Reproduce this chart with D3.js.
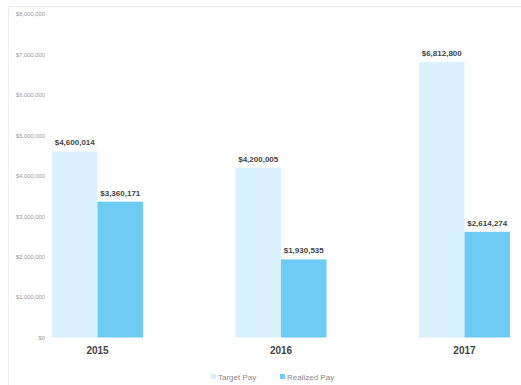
<!DOCTYPE html>
<html><head><meta charset="utf-8">
<script src="https://cdn.jsdelivr.net/npm/d3@7"></script>
<style>body{margin:0;background:#fff}svg{display:block}</style>
</head><body>
<svg id="c" width="521" height="385"></svg>
<script>
const categories = ["2015", "2016", "2017"];
const seriesNames = ["Target Pay", "Realized Pay"];
const targetPay = [4600014, 4200005, 6812800];
const realizedPay = [3360171, 1930535, 2614274];
const yTicks = [0, 1000000, 2000000, 3000000, 4000000, 5000000, 6000000, 7000000, 8000000];
const colors = ["#d9f2fd", "#6ecbf3"];

const svg = d3.select("#c");
const W = 521, H = 385;
const x = d3.scaleBand().domain(categories).range([52, 510]).paddingInner(0.504).paddingOuter(0);
const xs = d3.scaleBand().domain(seriesNames).range([0, x.bandwidth()]);
const y = d3.scaleLinear().domain([0, 8000000]).range([337.5, 14]);

// faint frame lines
svg.append("line").attr("x1", 8).attr("x2", W).attr("y1", 6.5).attr("y2", 6.5).attr("stroke", "#ececec");
svg.append("line").attr("x1", 8.5).attr("x2", 8.5).attr("y1", 6).attr("y2", H).attr("stroke", "#f0f0f0");

// y axis
const yAxis = d3.axisLeft(y).tickValues(yTicks).tickSize(0).tickPadding(0)
  .tickFormat(d => "$" + d3.format(",")(d));
const ga = svg.append("g").attr("transform", "translate(45,0)").call(yAxis);
ga.select(".domain").remove();
ga.selectAll("text").attr("font-family", "Liberation Sans, Arial, sans-serif").attr("font-size", 5.8).attr("fill", "#999");

// bars
const series = [targetPay, realizedPay];
series.forEach((vals, si) => {
  const g = svg.append("g");
  g.selectAll("rect").data(categories).join("rect")
    .attr("x", (c) => x(c) + xs(seriesNames[si]))
    .attr("width", xs.bandwidth())
    .attr("y", (c, i) => y(vals[i]))
    .attr("height", (c, i) => y(0) - y(vals[i]))
    .attr("fill", colors[si]);
  g.selectAll("text").data(categories).join("text")
    .attr("x", (c) => x(c) + xs(seriesNames[si]) + xs.bandwidth() / 2)
    .attr("y", (c, i) => y(vals[i]) - 6)
    .attr("text-anchor", "middle")
    .attr("font-family", "Liberation Sans, Arial, sans-serif")
    .attr("font-size", 8).attr("font-weight", "bold").attr("fill", "#444")
    .text((c, i) => "$" + d3.format(",")(vals[i]));
});

// x axis labels
const xAxis = d3.axisBottom(x).tickSize(0).tickPadding(7);
const gx = svg.append("g").attr("transform", "translate(0,340)").call(xAxis);
gx.select(".domain").remove();
gx.selectAll("text").attr("font-family", "Liberation Sans, Arial, sans-serif").attr("font-size", 10).attr("font-weight", "bold").attr("fill", "#444");

// legend
const legendX = [211, 280];
const lg = svg.append("g");
seriesNames.forEach((n, i) => {
  lg.append("rect").attr("x", legendX[i]).attr("y", 374).attr("width", 5).attr("height", 5).attr("fill", colors[i]);
  lg.append("text").attr("x", legendX[i] + 7).attr("y", 379.5)
    .attr("font-family", "Liberation Sans, Arial, sans-serif").attr("font-size", 8).attr("fill", "#8a8a8a").text(n);
});
</script>
</body></html>
